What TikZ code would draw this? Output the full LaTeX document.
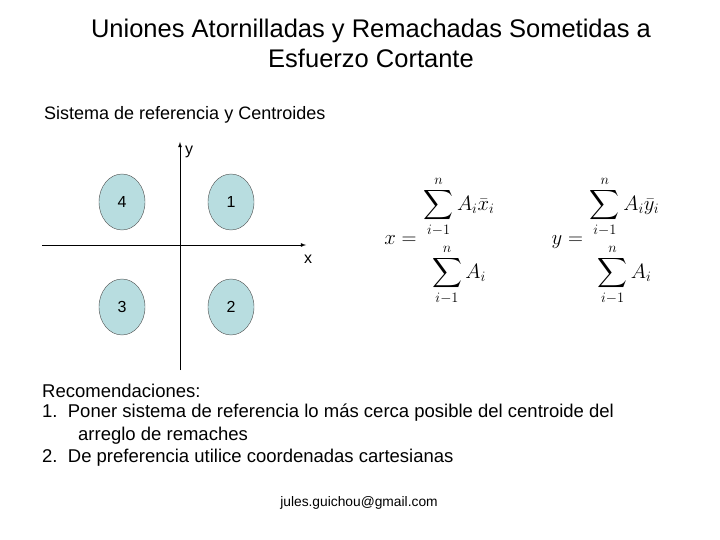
\documentclass[tikz,border=0pt]{standalone}
\usepackage{fontspec}
\setmainfont{Liberation Sans}
\usepackage{amsmath}
\usetikzlibrary{shapes.geometric}
\definecolor{boltfill}{HTML}{B8DDE0}
\begin{document}
\begin{tikzpicture}[x=1pt,y=-1pt,
  bolt/.style={draw=black!70,fill=boltfill,ellipse,minimum width=46pt,minimum height=56pt,inner sep=0pt,font=\fontsize{16}{19}\selectfont},
  txt/.style={anchor=west,inner sep=0pt,font=\fontsize{18.5}{21}\selectfont},
  axl/.style={anchor=west,inner sep=0pt,font=\fontsize{16}{19}\selectfont}]
\useasboundingbox (0,0) rectangle (720,540);
\node[align=center,font=\fontsize{25.5}{30}\selectfont] (title) at (371,43) {Uniones Atornilladas y Remachadas Sometidas a\\Esfuerzo Cortante};
\node[txt,font=\fontsize{18}{21}\selectfont] (sub) at (44,115) {Sistema de referencia y Centroides};
\coordinate (yb) at (180,370); \coordinate (yt) at (180,142);
\coordinate (xl) at (42,245); \coordinate (xr) at (306,245);
\draw[-latex,thick] (yb) -- (yt);
\draw[-latex,thick] (xl) -- (xr);
\node[axl] (ylab) at (185,152) {y};
\node[axl] (xlab) at (304,259) {x};
\node[bolt] (b4) at (122,202) {4};
\node[bolt] (b1) at (231,202) {1};
\node[bolt] (b3) at (122,307) {3};
\node[bolt] (b2) at (231,307) {2};
\node[font=\fontsize{21}{24}\selectfont] (fx) at (440,241) {$x=\genfrac{}{}{0pt}{0}{\displaystyle\sum_{i-1}^{n}A_i\bar{x}_i}{\displaystyle\sum_{i-1}^{n}A_i}$};
\node[font=\fontsize{21}{24}\selectfont] (fy) at (606,241) {$y=\genfrac{}{}{0pt}{0}{\displaystyle\sum_{i-1}^{n}A_i\bar{y}_i}{\displaystyle\sum_{i-1}^{n}A_i}$};
\node[txt] (r0) at (42,391) {Recomendaciones:};
\node[txt] (r1) at (42,413) {1.\ \ Poner sistema de referencia lo más cerca posible del centroide del};
\node[txt] (r1b) at (78,436) {arreglo de remaches};
\node[txt] (r2) at (42,458) {2.\ \ De preferencia utilice coordenadas cartesianas};
\node[font=\fontsize{13.8}{16}\selectfont] (mail) at (359,503) {jules.guichou@gmail.com};
\end{tikzpicture}
\end{document}
